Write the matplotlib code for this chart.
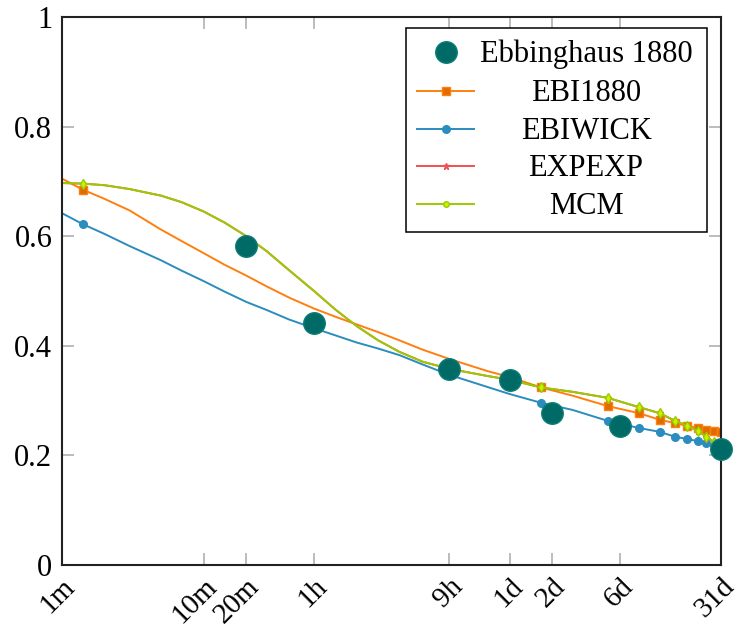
import matplotlib
matplotlib.use("Agg")
import matplotlib.pyplot as plt
from matplotlib.lines import Line2D
from matplotlib.patches import Rectangle
from matplotlib.ticker import NullLocator

plt.rcParams['font.family'] = ['Liberation Serif', 'DejaVu Serif']

# time axis in minutes
tick_minutes = [1, 10, 20, 60, 540, 1440, 2880, 8640, 44640]
tick_labels = ["1m", "10m", "20m", "1h", "9h", "1d", "2d", "6d", "31d"]
y_ticks = [0, 0.2, 0.4, 0.6, 0.8, 1]
y_labels = ["0", "0.2", "0.4", "0.6", "0.8", "1"]

# Ebbinghaus 1880 savings
ebb_t = [20, 60, 540, 1440, 2880, 8640, 44640]
ebb_recall = [0.582, 0.442, 0.358, 0.337, 0.278, 0.254, 0.211]

# model curves
model_t = [1, 1.4, 2, 3, 5, 7, 10, 14, 20, 28, 40, 60, 85, 120, 170, 240, 350,
           540, 1000, 1440, 2400, 4000, 7093, 11787, 16480, 21173, 25867,
           30560, 35253, 39947, 44640]
ebi1880 = [0.705, 0.685, 0.668, 0.647, 0.612, 0.591, 0.569, 0.548, 0.528, 0.508,
           0.488, 0.468, 0.453, 0.439, 0.425, 0.410, 0.393, 0.376, 0.354, 0.343,
           0.324, 0.309, 0.290, 0.277, 0.265, 0.259, 0.254, 0.250, 0.247, 0.245,
           0.243]
ebiwick = [0.642, 0.622, 0.604, 0.582, 0.556, 0.537, 0.518, 0.499, 0.480, 0.465,
           0.448, 0.432, 0.419, 0.406, 0.395, 0.383, 0.366, 0.347, 0.325, 0.312,
           0.296, 0.283, 0.263, 0.250, 0.243, 0.234, 0.230, 0.226, 0.223, 0.219,
           0.216]
expexp = [0.697, 0.696, 0.693, 0.686, 0.674, 0.662, 0.645, 0.625, 0.600, 0.572,
          0.538, 0.500, 0.466, 0.436, 0.410, 0.389, 0.371, 0.358, 0.345, 0.338,
          0.324, 0.316, 0.305, 0.288, 0.277, 0.263, 0.254, 0.245, 0.234, 0.224,
          0.216]
mcm = [0.697, 0.696, 0.693, 0.686, 0.674, 0.662, 0.645, 0.625, 0.600, 0.572,
       0.538, 0.500, 0.466, 0.436, 0.410, 0.389, 0.371, 0.358, 0.345, 0.338,
       0.324, 0.316, 0.305, 0.288, 0.277, 0.263, 0.254, 0.245, 0.234, 0.224,
       0.216]
mark_idx = [1, 20, 22, 23, 24, 25, 26, 27, 28, 29, 30]

teal = "#006b66"
orange = "#ff7f0e"
blue = "#2b8cbe"
red = "#f05050"
green = "#99cc00"

fig = plt.figure(figsize=(7.41, 6.29), dpi=100)
ax = fig.add_axes([62 / 741, 64 / 629, 659 / 741, 548 / 629])

ax.plot(model_t, ebi1880, color=orange, lw=1.4, marker="s", ms=6,
        mfc="#e06c00", mec=orange, markevery=mark_idx, zorder=2)
ax.plot(model_t, ebiwick, color=blue, lw=1.4, marker="o", ms=5.5,
        mfc=blue, mec=blue, markevery=mark_idx, zorder=2)
ax.plot(model_t, expexp, color=red, lw=1.4, marker="*", ms=5,
        markevery=mark_idx, zorder=2)
ax.plot(model_t, mcm, color=green, lw=1.4, marker="d", ms=5,
        mfc="#ccf000", mec=green, markevery=mark_idx, zorder=2)
ax.plot(ebb_t, ebb_recall, "o", ms=15.5, color=teal, mec="#0b7d78", mew=1,
        zorder=3, clip_on=False)

ax.set_xscale("log")
ax.set_xlim(1, 44640)
ax.set_ylim(0, 1)
ax.set_xticks(tick_minutes)
ax.set_xticklabels(tick_labels)
ax.xaxis.set_minor_locator(NullLocator())
ax.set_yticks(y_ticks)
ax.set_yticklabels(y_labels)

ax.tick_params(direction="in", length=8.5, width=1.1, color="#aaaaaa",
               top=True, right=True, labelsize=22)
ax.tick_params(axis="y", pad=7)
ax.tick_params(axis="x", pad=6, labelsize=21)
for lab in ax.get_xticklabels():
    lab.set_rotation(45)
    lab.set_ha("right")
    lab.set_va("top")
    lab.set_rotation_mode("anchor")

for sp in ax.spines.values():
    sp.set_linewidth(1.5)
    sp.set_color("#222222")


# legend drawn by hand so the labels can be centred like the original
def axc(px, py):
    return (px - 62) / 659, (565 - py) / 548


x0, y0 = axc(406, 232)
x1, y1 = axc(707, 28)
ax.add_patch(Rectangle((x0, y0), x1 - x0, y1 - y0, transform=ax.transAxes,
                       facecolor="white", edgecolor="black", lw=1.1, zorder=10))

rows = [52, 91, 129, 166, 204]
names = ["Ebbinghaus 1880", "EBI1880", "EBIWICK", "EXPEXP", "MCM"]
styles = [
    dict(color=teal, marker="o", ms=15.5, ls="none", mec="#0b7d78"),
    dict(color=orange, marker="s", ms=6, mfc="#e06c00", mec=orange, lw=1.4),
    dict(color=blue, marker="o", ms=5.5, lw=1.4),
    dict(color=red, marker="*", ms=5, lw=1.4),
    dict(color=green, marker="o", ms=4, mfc="#ccf000", mec=green, lw=1.4),
]
for row, name, st in zip(rows, names, styles):
    lx0, ly = axc(417, row)
    lx1, _ = axc(474, row)
    mx, _ = axc(446, row)
    if st.get("ls") == "none":
        ax.add_line(Line2D([mx], [ly], transform=ax.transAxes, zorder=11, **st))
    else:
        ax.add_line(Line2D([lx0, lx1], [ly, ly], transform=ax.transAxes,
                           zorder=11, markevery=[], **st))
        ax.add_line(Line2D([mx], [ly], transform=ax.transAxes, zorder=12,
                           **{k: v for k, v in st.items() if k != "lw"}))
    tx, ty = axc(586, row + 10)
    ax.text(tx, ty, name, transform=ax.transAxes, ha="center", va="baseline",
            fontsize=22, zorder=12)

fig.savefig("out.png", dpi=100)
